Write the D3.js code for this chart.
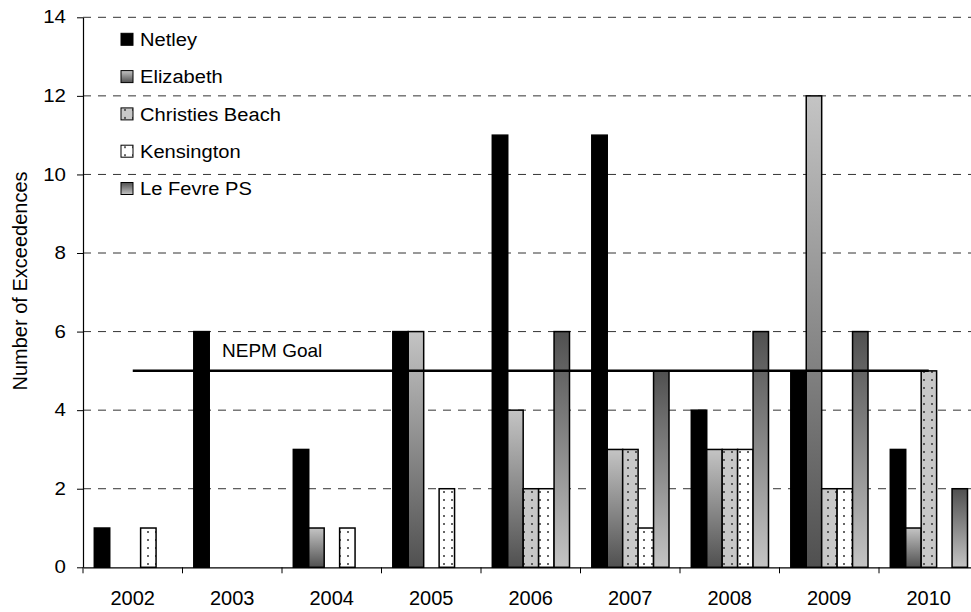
<!DOCTYPE html>
<meta charset="utf-8">
<head>
  <meta charset="UTF-8">
  <title>Number of Exceedences</title>
  <style>
    body { margin: 0; background: #fff; }
    text { font-family: "Liberation Sans", Arial, sans-serif; fill: #000; }
  </style>
</head>
<body>
<script src="https://d3js.org/d3.v7.min.js"></script>
<div id="chart"></div>
<script>

// Data
var years = ["2002", "2003", "2004", "2005", "2006", "2007", "2008", "2009", "2010"];
var series = ["Netley", "Elizabeth", "Christies Beach", "Kensington", "Le Fevre PS"];
var netley     = [1, 6, 3, 6, 11, 11, 4, 5, 3];
var elizabeth  = [0, 0, 1, 6, 4, 3, 3, 12, 1];
var christies  = [0, 0, 0, 0, 2, 3, 3, 2, 5];
var kensington = [1, 0, 1, 2, 2, 1, 3, 2, 0];
var lefevre    = [0, 0, 0, 0, 6, 5, 6, 6, 2];
var nepmGoal = 5;
var yTicks = [0, 2, 4, 6, 8, 10, 12, 14];

var values = [netley, elizabeth, christies, kensington, lefevre];
var fills = ["#000", "url(#gradLight)", "url(#dotsGray)", "url(#dotsWhite)", "url(#gradDark)"];

var width = 971, height = 612;
// plot edges (right edge runs past the picture, as in the original)
var plotLeft = 83, plotRight = 978.5, plotTop = 17.3, plotBottom = 567.3;

var svg = d3.select("#chart").append("svg")
    .attr("width", width)
    .attr("height", height);

var defs = svg.append("defs");

function gradient(id, c0, c1) {
  var g = defs.append("linearGradient").attr("id", id)
      .attr("x1", 0).attr("y1", 0).attr("x2", 0).attr("y2", 1);
  g.append("stop").attr("offset", "0%").attr("stop-color", c0);
  g.append("stop").attr("offset", "100%").attr("stop-color", c1);
}
gradient("gradLight", "#c4c4c4", "#505050");
gradient("gradDark", "#505050", "#c4c4c4");

function dots(id, bg) {
  var p = defs.append("pattern").attr("id", id)
      .attr("patternUnits", "userSpaceOnUse")
      .attr("width", 8).attr("height", 8);
  p.append("rect").attr("width", 8).attr("height", 8).attr("fill", bg);
  p.append("circle").attr("cx", 4).attr("cy", 4).attr("r", 1).attr("fill", "#333");
}
dots("dotsGray", "#c8c8c8");
dots("dotsWhite", "#fff");

// Scales
var x0 = d3.scaleBand().domain(years).range([plotLeft, plotRight]);
var x1 = d3.scaleBand().domain(series).range([11.3, x0.bandwidth() - 11]);
var y = d3.scaleLinear().domain([0, 14]).range([plotBottom, plotTop]);

// dashed gridlines
svg.append("g").selectAll("line")
  .data(yTicks.filter(function(d) { return d > 0; }))
  .enter().append("line")
    .attr("x1", plotLeft).attr("x2", plotRight)
    .attr("y1", function(d) { return y(d); })
    .attr("y2", function(d) { return y(d); })
    .attr("stroke", "#333")
    .attr("stroke-width", 1)
    .attr("stroke-dasharray", "8,7");

// bars
var rows = [];
years.forEach(function(yr, i) {
  series.forEach(function(s, j) {
    if (values[j][i] > 0) rows.push({year: yr, name: s, value: values[j][i], fill: fills[j]});
  });
});

svg.append("g").selectAll("rect")
  .data(rows)
  .enter().append("rect")
    .attr("x", function(d) { return x0(d.year) + x1(d.name); })
    .attr("y", function(d) { return y(d.value); })
    .attr("width", x1.bandwidth())
    .attr("height", function(d) { return y(0) - y(d.value); })
    .attr("fill", function(d) { return d.fill; })
    .attr("stroke", "#000")
    .attr("stroke-width", 1.5);

// NEPM goal line
var half = x0.bandwidth() / 2;
svg.append("line")
    .attr("x1", x0(years[0]) + half)
    .attr("x2", x0(years[years.length - 1]) + half)
    .attr("y1", y(nepmGoal)).attr("y2", y(nepmGoal))
    .attr("stroke", "#000")
    .attr("stroke-width", 2.5);

svg.append("text")
    .attr("x", 222).attr("y", y(nepmGoal) - 13.5)
    .style("font-size", "19px")
    .text("NEPM Goal");

// y axis
var yAxis = svg.append("g")
    .attr("transform", "translate(" + plotLeft + ",0)")
    .call(d3.axisLeft(y).tickValues(yTicks).tickSize(6).tickSizeOuter(0));
yAxis.select(".domain").attr("stroke", "#000").attr("stroke-width", 1.2);
yAxis.selectAll(".tick line").attr("stroke", "#000");
yAxis.selectAll("text")
    .attr("x", -17 / 1.17)
    .attr("transform", "scale(1.17,1)")
    .style("font-size", "17.5px")
    .attr("font-family", null);

// x axis
var xAxis = svg.append("g")
    .attr("transform", "translate(0," + plotBottom + ")")
    .call(d3.axisBottom(x0).tickSize(0).tickSizeOuter(0).tickPadding(23.6));
xAxis.select(".domain").attr("stroke", "#000").attr("stroke-width", 1.2);
xAxis.selectAll("text")
    .style("font-size", "20px")
    .attr("font-family", null);

// category boundary ticks
svg.append("g").selectAll("line")
  .data(years)
  .enter().append("line")
    .attr("x1", function(d) { return x0(d); })
    .attr("x2", function(d) { return x0(d); })
    .attr("y1", plotBottom).attr("y2", plotBottom + 6)
    .attr("stroke", "#000")
    .attr("stroke-width", 1);

// y title
svg.append("text")
    .attr("transform", "translate(27,281) rotate(-90)")
    .attr("text-anchor", "middle")
    .style("font-size", "20px")
    .text("Number of Exceedences");

// legend
var legend = svg.append("g").selectAll("g")
  .data(series)
  .enter().append("g")
    .attr("transform", function(d, i) { return "translate(121," + (39.3 + i * 37.3) + ")"; });

legend.append("rect")
    .attr("x", 0).attr("y", -6)
    .attr("width", 12).attr("height", 12)
    .attr("fill", function(d, i) { return fills[i]; })
    .attr("stroke", "#000")
    .attr("stroke-width", 1);

legend.append("text")
    .attr("transform", "translate(19,0) scale(1.06,1)")
    .attr("dy", "0.35em")
    .style("font-size", "19px")
    .text(function(d) { return d; });

</script>
</body>
